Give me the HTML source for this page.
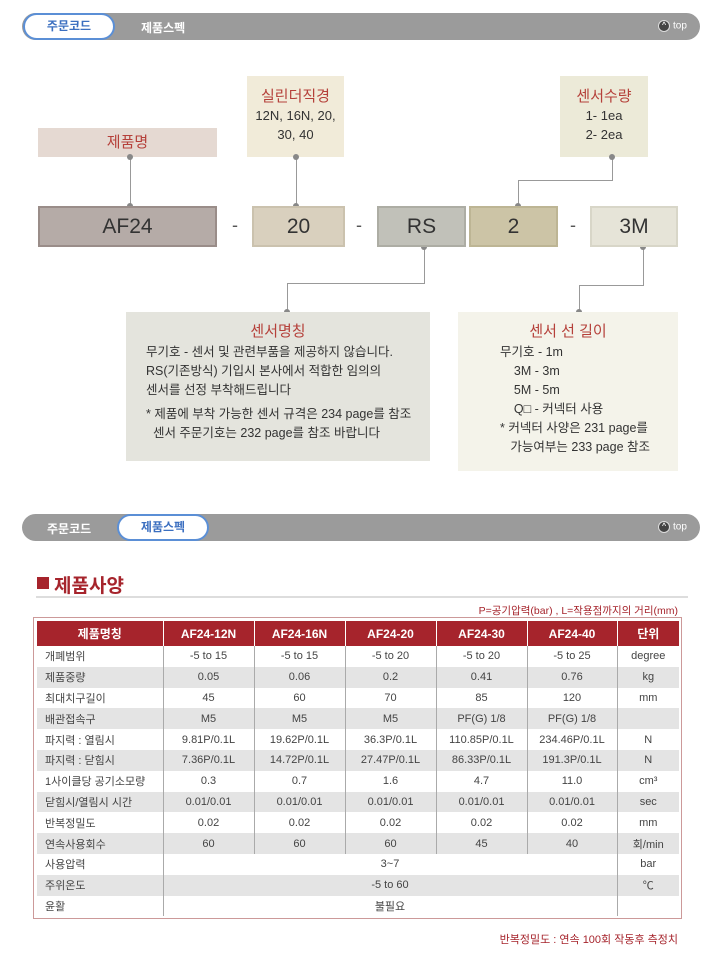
<!DOCTYPE html><html><head><meta charset="utf-8"><style>
body{margin:0;width:710px;height:959px;background:#fff;position:relative;overflow:hidden;font-family:"Liberation Sans","Noto Sans CJK KR",sans-serif;}
.a{position:absolute;box-sizing:border-box}
.bar{left:22px;width:678px;height:27px;background:#9b9b9b;border-radius:14px}
.pill{background:#fff;border:2px solid #5b8fd6;border-radius:14px;color:#3b6fc0;font-size:12px;font-weight:bold;text-align:center;line-height:23px;height:27px}
.tw{color:#fff;font-size:12px;font-weight:bold}
.top{color:#fff;font-size:10px}
.top b{display:inline-block;width:10px;height:10px;border-radius:50%;background:#444;border:1px solid #ddd;vertical-align:middle;margin-right:3px;font-size:7px;line-height:10px;text-align:center}
.lab{text-align:center;color:#333;font-size:13px}
.lab .t{color:#b5403a;font-size:15px}
.code{height:41px;text-align:center;line-height:37px;font-size:21px;color:#333;border:2px solid}
.v{background:#999;width:1px}.h{background:#999;height:1px}
.dot{width:6px;height:6px;border-radius:50%;background:#888}
.dash{font-size:18px;color:#555}
table{border-collapse:collapse;font-size:11px;color:#444;table-layout:fixed}
td{height:20.8px;padding:0;text-align:center;border-left:1px solid #aaa;white-space:nowrap;overflow:hidden}
td:first-child{text-align:left;padding-left:8px;border-left:none}
tr.g td{background:#e4e4e4}
th{background:#a6242c;color:#fff;height:25px;font-size:12px;border-left:1px solid #fff;padding:0}
th:first-child{border-left:none}
</style></head><body>
<div class="a bar" style="top:13px"></div>
<div class="a pill" style="left:23px;top:13px;width:92px">주문코드</div>
<div class="a tw" style="left:141px;top:19px">제품스펙</div>
<div class="a top" style="left:658px;top:20px"><b>^</b>top</div>

<div class="a lab" style="left:38px;top:128px;width:179px;height:29px;background:#e5d9d2;line-height:29px"><span class="t">제품명</span></div>
<div class="a lab" style="left:247px;top:76px;width:97px;height:81px;background:#f1ebd9;padding-top:11px;line-height:19px"><span class="t">실린더직경</span><br>12N, 16N, 20,<br>30, 40</div>
<div class="a lab" style="left:560px;top:76px;width:88px;height:81px;background:#ecead8;padding-top:11px;line-height:19px"><span class="t">센서수량</span><br>1- 1ea<br>2- 2ea</div>

<div class="a v" style="left:130px;top:157px;height:50px"></div>
<div class="a v" style="left:296px;top:157px;height:50px"></div>
<div class="a v" style="left:612px;top:157px;height:24px"></div>
<div class="a h" style="left:518px;top:180px;width:95px"></div>
<div class="a v" style="left:518px;top:180px;height:27px"></div>
<div class="a v" style="left:424px;top:247px;height:37px"></div>
<div class="a h" style="left:287px;top:283px;width:138px"></div>
<div class="a v" style="left:287px;top:283px;height:30px"></div>
<div class="a v" style="left:643px;top:247px;height:38px"></div>
<div class="a h" style="left:579px;top:285px;width:65px"></div>
<div class="a v" style="left:579px;top:285px;height:28px"></div>
<div class="a dot" style="left:127px;top:154px"></div><div class="a dot" style="left:293px;top:154px"></div><div class="a dot" style="left:609px;top:154px"></div>
<div class="a dot" style="left:127px;top:203px"></div><div class="a dot" style="left:293px;top:203px"></div><div class="a dot" style="left:515px;top:203px"></div>
<div class="a dot" style="left:421px;top:244px"></div><div class="a dot" style="left:640px;top:244px"></div>
<div class="a dot" style="left:284px;top:309px"></div><div class="a dot" style="left:576px;top:309px"></div>

<div class="a code" style="left:38px;top:206px;width:179px;background:#b5aba7;border-color:#9a8d89">AF24</div>
<div class="a code" style="left:252px;top:206px;width:93px;background:#d9d0be;border-color:#cbc2ae">20</div>
<div class="a code" style="left:377px;top:206px;width:89px;background:#c1c1b9;border-color:#adada4">RS</div>
<div class="a code" style="left:469px;top:206px;width:89px;background:#ccc4a6;border-color:#bdb594">2</div>
<div class="a code" style="left:590px;top:206px;width:88px;background:#e6e4d8;border-color:#d8d6c8">3M</div>
<div class="a dash" style="left:232px;top:215px">-</div><div class="a dash" style="left:356px;top:215px">-</div><div class="a dash" style="left:570px;top:215px">-</div>

<div class="a" style="left:126px;top:312px;width:304px;height:149px;background:#e4e4dd;font-size:12.5px;color:#333;line-height:19px;padding:10px 0 0 20px">
<div style="text-align:center;color:#b5403a;font-size:15px;margin-left:-20px;margin-bottom:2px">센서명칭</div>
무기호 - 센서 및 관련부품을 제공하지 않습니다.<br>RS(기존방식) 기입시 본사에서 적합한 임의의<br>센서를 선정 부착해드립니다<div style="height:5px"></div>* 제품에 부착 가능한 센서 규격은 234 page를 참조<br>&nbsp;&nbsp;센서 주문기호는 232 page를 참조 바랍니다</div>
<div class="a" style="left:458px;top:312px;width:220px;height:159px;background:#f4f3ea;font-size:12.5px;color:#333;line-height:19px;padding:10px 0 0 42px">
<div style="text-align:center;color:#b5403a;font-size:15px;margin-left:-42px;margin-bottom:2px">센서 선 길이</div>
무기호 - 1m<br>&nbsp;&nbsp;&nbsp;&nbsp;3M - 3m<br>&nbsp;&nbsp;&nbsp;&nbsp;5M - 5m<br>&nbsp;&nbsp;&nbsp;&nbsp;Q□ - 커넥터 사용<br>* 커넥터 사양은 231 page를<br>&nbsp;&nbsp;&nbsp;가능여부는 233 page 참조</div>

<div class="a bar" style="top:514px"></div>
<div class="a tw" style="left:47px;top:520px">주문코드</div>
<div class="a pill" style="left:117px;top:514px;width:92px">제품스펙</div>
<div class="a top" style="left:658px;top:521px"><b>^</b>top</div>

<div class="a" style="left:37px;top:577px;width:12px;height:12px;background:#a6242c"></div>
<div class="a" style="left:54px;top:571px;font-size:19px;color:#a6242c;font-weight:bold">제품사양</div>
<div class="a" style="left:36px;top:596px;width:652px;height:2px;background:#ddd"></div>
<div class="a" style="right:32px;top:603px;font-size:10.5px;color:#a6242c">P=공기압력(bar) , L=작용점까지의 거리(mm)</div>

<div class="a" style="left:33px;top:617px;width:649px;height:302px;border:1px solid #c99;padding:3px 4px 3px 3px">
<table style="width:642px">
<colgroup><col style="width:126px"><col style="width:91px"><col style="width:91px"><col style="width:91px"><col style="width:91px"><col style="width:90px"><col style="width:62px"></colgroup>
<tr><th>제품명칭</th><th>AF24-12N</th><th>AF24-16N</th><th>AF24-20</th><th>AF24-30</th><th>AF24-40</th><th>단위</th></tr>
<tr><td>개폐범위</td><td>-5 to 15</td><td>-5 to 15</td><td>-5 to 20</td><td>-5 to 20</td><td>-5 to 25</td><td>degree</td></tr>
<tr class="g"><td>제품중량</td><td>0.05</td><td>0.06</td><td>0.2</td><td>0.41</td><td>0.76</td><td>kg</td></tr>
<tr><td>최대치구길이</td><td>45</td><td>60</td><td>70</td><td>85</td><td>120</td><td>mm</td></tr>
<tr class="g"><td>배관접속구</td><td>M5</td><td>M5</td><td>M5</td><td>PF(G) 1/8</td><td>PF(G) 1/8</td><td></td></tr>
<tr><td>파지력 : 열림시</td><td>9.81P/0.1L</td><td>19.62P/0.1L</td><td>36.3P/0.1L</td><td>110.85P/0.1L</td><td>234.46P/0.1L</td><td>N</td></tr>
<tr class="g"><td>파지력 : 닫힘시</td><td>7.36P/0.1L</td><td>14.72P/0.1L</td><td>27.47P/0.1L</td><td>86.33P/0.1L</td><td>191.3P/0.1L</td><td>N</td></tr>
<tr><td>1사이클당 공기소모량</td><td>0.3</td><td>0.7</td><td>1.6</td><td>4.7</td><td>11.0</td><td>cm³</td></tr>
<tr class="g"><td>닫힘시/열림시 시간</td><td>0.01/0.01</td><td>0.01/0.01</td><td>0.01/0.01</td><td>0.01/0.01</td><td>0.01/0.01</td><td>sec</td></tr>
<tr><td>반복정밀도</td><td>0.02</td><td>0.02</td><td>0.02</td><td>0.02</td><td>0.02</td><td>mm</td></tr>
<tr class="g"><td>연속사용회수</td><td>60</td><td>60</td><td>60</td><td>45</td><td>40</td><td>회/min</td></tr>
<tr><td>사용압력</td><td colspan="5">3~7</td><td>bar</td></tr>
<tr class="g"><td>주위온도</td><td colspan="5">-5 to 60</td><td>℃</td></tr>
<tr><td>윤활</td><td colspan="5">불필요</td><td></td></tr>
</table></div>
<div class="a" style="right:32px;top:931px;font-size:11px;color:#a6242c">반복정밀도 : 연속 100회 작동후 측정치</div>
</body></html>
